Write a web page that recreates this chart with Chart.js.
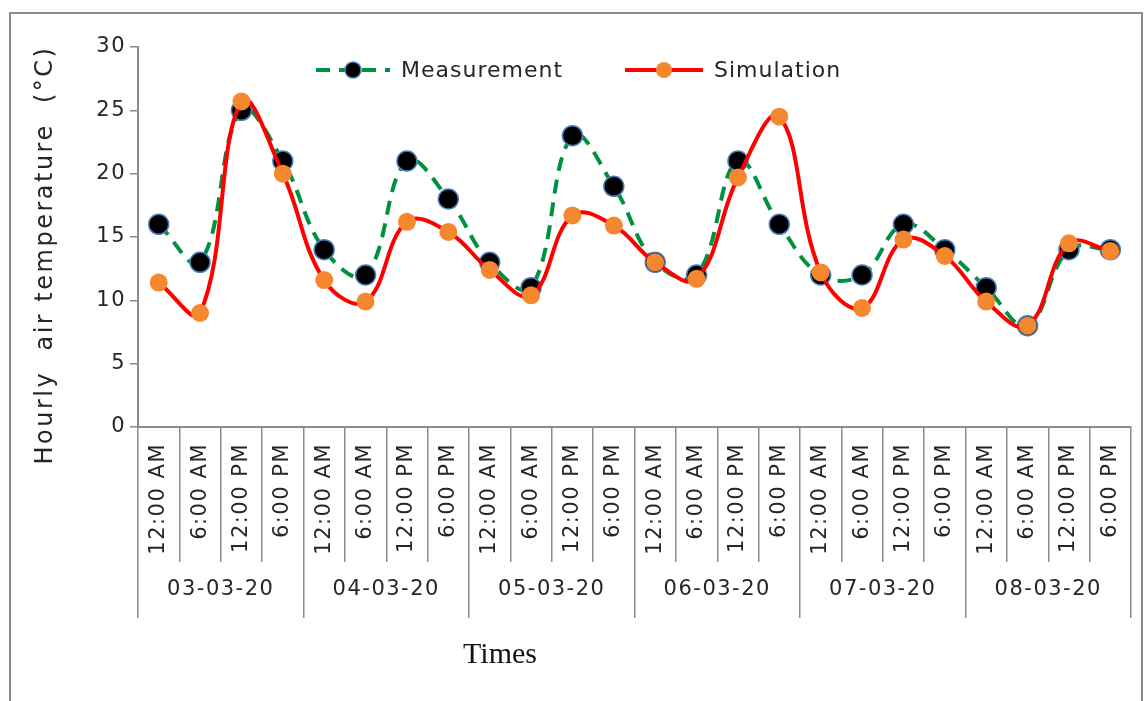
<!DOCTYPE html>
<html>
<head>
<meta charset="utf-8">
<script src="https://cdn.jsdelivr.net/npm/chart.js@4/dist/chart.umd.min.js"></script>
<style>
  html, body { margin: 0; padding: 0; background: #fff; overflow: hidden; }
  #wrap { position: relative; width: 1144px; height: 701px; }
  #frame { position: absolute; left: 9px; top: 12px; width: 1130px; height: 720px;
           border: 2px solid #8c8c8c; pointer-events: none; }
</style>
</head>
<body>
<div id="wrap">
  <canvas id="grafico" width="1144" height="701"></canvas>
  <div id="frame"></div>
</div>
<script>
// datos
const days = ['03-03-20', '04-03-20', '05-03-20', '06-03-20', '07-03-20', '08-03-20'];
const times = ['12:00 AM', '6:00 AM', '12:00 PM', '6:00 PM'];
const measurement = [16, 13, 25, 21, 14, 12, 21, 18, 13, 11, 23, 19, 13, 12, 21, 16, 12, 12, 16, 14, 11, 8, 14, 14];
const simulation = [11.4, 9.0, 25.7, 20.0, 11.6, 9.9, 16.2, 15.4, 12.4, 10.4, 16.7, 15.9, 13.0, 11.7, 19.7, 24.5, 12.2, 9.4, 14.8, 13.5, 9.9, 8.0, 14.5, 13.9];
const yTicks = [0, 5, 10, 15, 20, 25, 30];

const labels = days.flatMap(() => times);
const gris = '#8c8c8c';
const texto = '#262626';

Chart.defaults.font.family = 'DejaVu Sans';
Chart.defaults.font.size = 21;
Chart.defaults.color = texto;

// espaciado de letras como en el original
const espaciado = {
    id: 'espaciado',
    beforeDraw(chart) {
        chart.ctx.letterSpacing = '1.5px';
    }
};

// leyenda y titulos dibujados a mano
const extras = {
    id: 'extras',
    afterDraw(chart) {
        const ctx = chart.ctx;
        const ds = chart.data.datasets;
        ctx.save();
        ctx.letterSpacing = '1px';
        ctx.font = '22px "DejaVu Sans"';
        ctx.textBaseline = 'middle';
        ctx.fillStyle = texto;

        const items = [
            { d: ds[1], x0: 316, x1: 390, text: 'Measurement' },
            { d: ds[0], x0: 625, x1: 703, text: 'Simulation' }
        ];
        const y = 70;
        items.forEach(it => {
            ctx.save();
            ctx.strokeStyle = it.d.borderColor;
            ctx.lineWidth = it.d.borderWidth;
            ctx.setLineDash(it.d.borderDash || []);
            ctx.beginPath();
            ctx.moveTo(it.x0, y);
            ctx.lineTo(it.x1, y);
            ctx.stroke();
            ctx.setLineDash([]);
            ctx.beginPath();
            ctx.arc((it.x0 + it.x1) / 2, y, 8, 0, Math.PI * 2);
            ctx.fillStyle = it.d.pointBackgroundColor;
            ctx.fill();
            if (it.d.pointBorderWidth) {
                ctx.lineWidth = 1.5;
                ctx.strokeStyle = it.d.pointBorderColor;
                ctx.stroke();
            }
            ctx.restore();
            ctx.fillText(it.text, it.x1 + 11, y + 1);
        });

        // titulo eje y
        ctx.save();
        ctx.letterSpacing = '2.5px';
        ctx.translate(46, 255);
        ctx.rotate(-Math.PI / 2);
        ctx.textAlign = 'center';
        ctx.font = '24px "DejaVu Sans"';
        ctx.fillText('Hourly  air temperature  (°C)', 0, 0);
        ctx.restore();

        // titulo eje x
        ctx.letterSpacing = '0px';
        ctx.font = '30px "Liberation Serif"';
        ctx.textAlign = 'center';
        ctx.fillStyle = '#111';
        ctx.fillText('Times', 500, 655);
        ctx.restore();
    }
};

new Chart(document.getElementById('grafico').getContext('2d'), {
    type: 'line',
    data: {
        labels: labels,
        datasets: [{
            label: 'Simulation',
            data: simulation,
            order: 0,
            borderColor: '#ff0000',
            borderWidth: 4,
            tension: 0.4,
            pointRadius: 9,
            pointBackgroundColor: '#f5882e',
            pointBorderColor: '#f5882e',
            pointBorderWidth: 0
        }, {
            label: 'Measurement',
            data: measurement,
            order: 1,
            borderColor: '#00913f',
            borderWidth: 4,
            borderDash: [14, 9],
            tension: 0.4,
            pointRadius: 10,
            pointBackgroundColor: '#000000',
            pointBorderColor: '#4a7ebb',
            pointBorderWidth: 1.5
        }]
    },
    options: {
        responsive: false,
        animation: false,
        layout: { padding: { left: 10, right: 13, top: 47, bottom: 83 } },
        plugins: { legend: { display: false }, tooltip: { enabled: false } },
        scales: {
            x: {
                type: 'category',
                position: 'bottom',
                offset: true,
                grid: { offset: true, drawOnChartArea: false, tickLength: 135, color: gris, lineWidth: 1.5 },
                border: { color: gris, width: 2 },
                ticks: { autoSkip: false, minRotation: 90, maxRotation: 90, padding: -119 },
                afterFit(s) { s.height = 135; }
            },
            x2: {
                type: 'category',
                position: 'bottom',
                labels: days,
                offset: true,
                grid: { offset: true, drawOnChartArea: false, tickLength: 56, color: gris, lineWidth: 1.5 },
                border: { display: false },
                ticks: { padding: -41 },
                afterFit(s) { s.height = 56; }
            },
            y: {
                min: 0,
                max: 30,
                afterBuildTicks(s) { s.ticks = yTicks.map(v => ({ value: v })); },
                grid: { drawOnChartArea: false, tickLength: 8, color: gris, lineWidth: 1.5 },
                border: { color: gris, width: 2 },
                ticks: { padding: 4 },
                afterFit(s) { s.width = 128; }
            }
        }
    },
    plugins: [espaciado, extras]
});
</script>
</body>
</html>
